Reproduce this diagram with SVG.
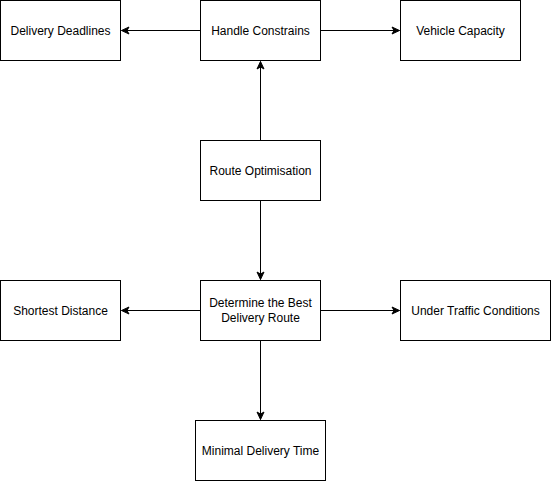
<svg xmlns="http://www.w3.org/2000/svg" width="551" height="481" viewBox="0 0 551 481">
<style>
.box{fill:#fff;stroke:#000;stroke-width:1}
.lbl{font-family:"Liberation Sans",Arial,Helvetica,sans-serif;font-size:12px;fill:#000;text-anchor:middle;dominant-baseline:central}
.edge{fill:none;stroke:#000;stroke-width:1}
</style>
<defs>
<marker id="arr" markerUnits="userSpaceOnUse" markerWidth="10" markerHeight="10" viewBox="-9 -5 10 10" refX="0" refY="0" orient="auto">
<path d="M0,0 L-7.5,-3.5 L-5.5,0 L-7.5,3.5 Z" fill="#000" stroke="#000" stroke-width="1"/>
</marker>
</defs>
<rect width="551" height="481" fill="#fff"/>
<g id="connectors">
<path class="edge" d="M200.5,30.5 H121.5" marker-end="url(#arr)"/>
<path class="edge" d="M320.5,30.5 H399.5" marker-end="url(#arr)"/>
<path class="edge" d="M260.5,140.5 V61.5" marker-end="url(#arr)"/>
<path class="edge" d="M260.5,200.5 V279.5" marker-end="url(#arr)"/>
<path class="edge" d="M200.5,310.5 H121.5" marker-end="url(#arr)"/>
<path class="edge" d="M320.5,310.5 H399.5" marker-end="url(#arr)"/>
<path class="edge" d="M260.5,340.5 V419.5" marker-end="url(#arr)"/>
</g>
<g id="delivery-deadlines"><rect class="box" x="0.5" y="0.5" width="120" height="60"/><text class="lbl" x="60.5" y="30.5">Delivery Deadlines</text></g>
<g id="handle-constrains"><rect class="box" x="200.5" y="0.5" width="120" height="60"/><text class="lbl" x="260.5" y="30.5">Handle Constrains</text></g>
<g id="vehicle-capacity"><rect class="box" x="400.5" y="0.5" width="120" height="60"/><text class="lbl" x="460.5" y="30.5">Vehicle Capacity</text></g>
<g id="route-optimisation"><rect class="box" x="200.5" y="140.5" width="120" height="60"/><text class="lbl" x="260.5" y="170.5">Route Optimisation</text></g>
<g id="shortest-distance"><rect class="box" x="0.5" y="280.5" width="120" height="60"/><text class="lbl" x="60.5" y="310.5">Shortest Distance</text></g>
<g id="determine-best-route"><rect class="box" x="200.5" y="280.5" width="120" height="60"/><text class="lbl" x="260.5" y="302.5">Determine the Best</text><text class="lbl" x="260.5" y="317.5">Delivery Route</text></g>
<g id="under-traffic-conditions"><rect class="box" x="400.5" y="280.5" width="150" height="60"/><text class="lbl" x="475.5" y="310.5">Under Traffic Conditions</text></g>
<g id="minimal-delivery-time"><rect class="box" x="195.5" y="420.5" width="130" height="60"/><text class="lbl" x="260.5" y="450.5">Minimal Delivery Time</text></g>
</svg>
